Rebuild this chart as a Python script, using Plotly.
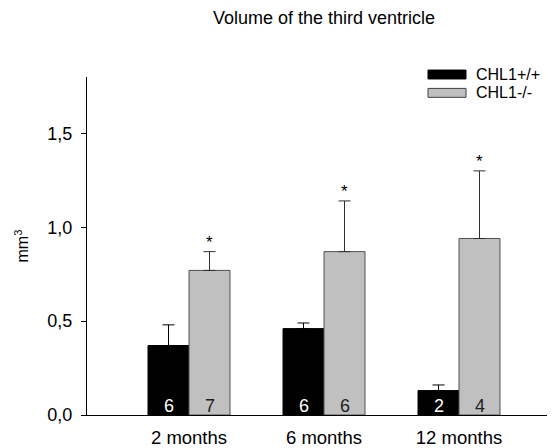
import plotly.graph_objects as go

categories = ["2 months", "6 months", "12 months"]
wt_values = [0.37, 0.46, 0.13]
wt_err = [0.11, 0.03, 0.03]
ko_values = [0.77, 0.87, 0.94]
ko_err = [0.10, 0.27, 0.36]
wt_n = ["6", "6", "2"]
ko_n = ["7", "6", "4"]
ko_sig = ["*", "*", "*"]
series_names = ["CHL1+/+", "CHL1-/-"]
y_ticks = [0.0, 0.5, 1.0, 1.5]

FONT = "Liberation Sans, Arial, sans-serif"
W, H = 555, 448
# page body adds an 8px offset; layout in figure coordinates
L, R, T, B = 79, 8, 69, 38
PW, PH = W - L - R, H - T - B
xidx = list(range(len(categories)))
GROUP_PX = 135
x_range = [-(181 - L) / GROUP_PX, (len(categories) - 1) + (W - R - 451) / GROUP_PX]
BAR_PX = 41

fig = go.Figure()
fig.add_trace(go.Bar(
    x=xidx, y=wt_values, name=series_names[0],
    marker=dict(color="#000000", line=dict(color="#000000", width=1)),
    error_y=dict(type="data", array=wt_err, arrayminus=[0] * 3, symmetric=False,
                 color="#000000", thickness=1, width=6),
    showlegend=False,
))
fig.add_trace(go.Bar(
    x=xidx, y=ko_values, name=series_names[1],
    marker=dict(color="#C0C0C0", line=dict(color="#505050", width=1)),
    error_y=dict(type="data", array=ko_err, arrayminus=[0] * 3, symmetric=False,
                 color="#303030", thickness=1, width=6),
    showlegend=False,
))

ann = []
for i in xidx:
    ann.append(dict(x=i, y=0, xref="x", yref="y", text=wt_n[i], showarrow=False,
                    xshift=-BAR_PX / 2, yshift=-3, yanchor="bottom",
                    font=dict(family=FONT, size=18, color="#ffffff")))
    ann.append(dict(x=i, y=0, xref="x", yref="y", text=ko_n[i], showarrow=False,
                    xshift=BAR_PX / 2, yshift=-3, yanchor="bottom",
                    font=dict(family=FONT, size=18, color="#202020")))
    ann.append(dict(x=i, y=ko_values[i] + ko_err[i], xref="x", yref="y", text=ko_sig[i],
                    showarrow=False, xshift=BAR_PX / 2, yshift=-2, yanchor="bottom",
                    font=dict(family=FONT, size=17, color="#000000")))

# manual legend
leg_colors = [("#000000", "#000000"), ("#C0C0C0", "#404040")]
leg_y = [66.5, 85]
shapes = []
for k, name in enumerate(series_names):
    cy = leg_y[k]
    shapes.append(dict(type="rect", xref="paper", yref="paper",
                       x0=(420 - L) / PW, x1=(458 - L) / PW,
                       y0=(H - B - (cy + 4.5)) / PH, y1=(H - B - (cy - 4.5)) / PH,
                       fillcolor=leg_colors[k][0], line=dict(color=leg_colors[k][1], width=1)))
    ann.append(dict(x=(466 - L) / PW, y=(H - B - cy) / PH, xref="paper", yref="paper",
                    text=name, showarrow=False, xanchor="left", yanchor="middle",
                    font=dict(family=FONT, size=16, color="#000000")))

fig.update_layout(
    width=W, height=H,
    margin=dict(l=L, r=R, t=T, b=B, pad=0),
    paper_bgcolor="white", plot_bgcolor="white",
    barmode="group", bargap=1 - 2 * BAR_PX / GROUP_PX, bargroupgap=0,
    separators=", ",
    font=dict(family=FONT, size=16, color="#000000"),
    title=dict(text="Volume of the third ventricle", x=316 / W, xanchor="center",
               y=1 - 10 / H, yanchor="middle", font=dict(family=FONT, size=18)),
    annotations=ann, shapes=shapes,
    showlegend=False,
)
fig.update_xaxes(range=x_range, tickvals=xidx, ticktext=categories, showline=True,
                 linecolor="#000000", linewidth=1, ticks="outside", ticklen=6,
                 tickcolor="rgba(0,0,0,0)", showgrid=False, zeroline=False,
                 tickfont=dict(family=FONT, size=18.5))
fig.update_yaxes(range=[0, 1.8], tickvals=y_ticks, tickformat=".1f", showline=True,
                 linecolor="#000000", linewidth=1, ticks="outside", ticklen=5,
                 tickcolor="#000000", showgrid=False, zeroline=False,
                 ticklabelstandoff=5,
                 tickfont=dict(family=FONT, size=18),
                 title=dict(text="mm<sup>3</sup>", font=dict(family=FONT, size=16), standoff=14))

fig.write_html("out.html")
